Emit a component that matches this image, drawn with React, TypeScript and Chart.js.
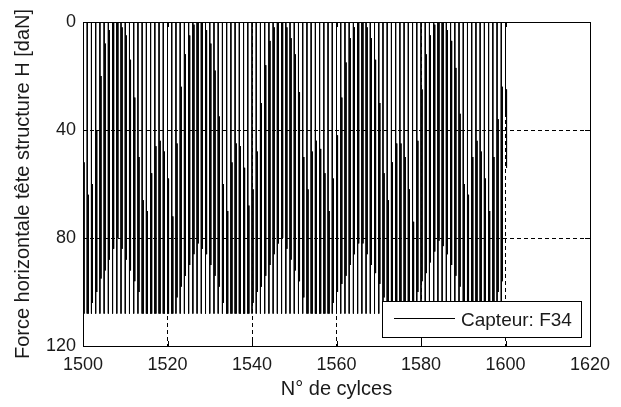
import React, { useEffect, useRef } from 'react';
import { Chart, registerables } from 'chart.js';

Chart.register(...registerables);

// N° de cycle of each loading stroke
const cycles = [
  1500, 1501, 1502, 1503, 1504, 1505, 1506, 1507, 1508, 1509,
  1510, 1511, 1512, 1513, 1514, 1515, 1516, 1517, 1518, 1519,
  1520, 1521, 1522, 1523, 1524, 1525, 1526, 1527, 1528, 1529,
  1530, 1531, 1532, 1533, 1534, 1535, 1536, 1537, 1538, 1539,
  1540, 1541, 1542, 1543, 1544, 1545, 1546, 1547, 1548, 1549,
  1550, 1551, 1552, 1553, 1554, 1555, 1556, 1557, 1558, 1559,
  1560, 1561, 1562, 1563, 1564, 1565, 1566, 1567, 1568, 1569,
  1570, 1571, 1572, 1573, 1574, 1575, 1576, 1577, 1578, 1579,
  1580, 1581, 1582, 1583, 1584, 1585, 1586, 1587, 1588, 1589,
  1590, 1591, 1592, 1593, 1594, 1595, 1596, 1597, 1598, 1599,
  1600,
];

// Minimum force of each stroke [daN] (axis top)
const strokeMin = [
  0, 0, 0, 0, 0, 0, 0, 0, 0, 0,
  0, 0, 0, 0, 0, 0, 0, 0, 0, 0,
  0, 0, 0, 0, 0, 0, 0, 0, 0, 0,
  0, 0, 0, 0, 0, 0, 0, 0, 0, 0,
  0, 0, 0, 0, 0, 0, 0, 0, 0, 0,
  0, 0, 0, 0, 0, 0, 0, 0, 0, 0,
  0, 0, 0, 0, 0, 0, 0, 0, 0, 0,
  0, 0, 0, 0, 0, 0, 0, 0, 0, 0,
  0, 0, 0, 0, 0, 0, 0, 0, 0, 0,
  0, 0, 0, 0, 0, 0, 0, 0, 0, 0,
  0,
];

// Maximum force of each stroke [daN]
const strokeMax = [
  108, 108, 108, 108, 108, 108, 108, 108, 108, 108,
  108, 108, 108, 108, 108, 108, 108, 108, 108, 108,
  108, 108, 108, 108, 108, 108, 108, 108, 108, 108,
  108, 108, 108, 108, 108, 108, 108, 108, 108, 108,
  108, 108, 108, 108, 108, 108, 108, 108, 108, 108,
  108, 108, 108, 108, 108, 108, 108, 108, 108, 108,
  108, 108, 108, 108, 108, 108, 108, 108, 108, 108,
  108, 108, 108, 108, 108, 108, 108, 108, 108, 108,
  108, 108, 108, 108, 108, 108, 108, 108, 108, 108,
  108, 108, 108, 108, 108, 108, 108, 108, 108, 108,
  34,
];

// Return stroke: sampled upper value [daN]
const returnTop = [
  52, 64, 60, 40, 20, 8, 3, 0, 0, 2,
  5, 14, 28, 50, 66, 70, 56, 46, 44, 48,
  58, 72, 45, 24, 12, 5, 1, 0, 0, 3,
  8, 18, 35, 60, 70, 52, 45, 46, 54, 68,
  62, 48, 30, 16, 7, 2, 0, 0, 2, 6,
  12, 26, 50, 62, 48, 44, 47, 56, 70, 58,
  42, 28, 15, 6, 2, 0, 0, 2, 6, 14,
  30, 56, 66, 52, 45, 45, 50, 62, 74, 44,
  25, 12, 5, 1, 0, 0, 3, 7, 17, 34,
  60, 64, 50, 44, 48, 58, 70, 50, 36, 24,
  25,
];

// Return stroke: sampled lower value [daN]
const returnBottom = [
  108, 108, 104, 100, 95, 92, 88, 84, 80, 84,
  88, 92, 96, 100, 108, 108, 108, 108, 108, 108,
  108, 108, 102, 98, 94, 90, 86, 82, 84, 86,
  90, 94, 98, 104, 108, 108, 108, 108, 108, 108,
  104, 100, 98, 94, 90, 86, 82, 80, 84, 88,
  92, 96, 102, 108, 108, 108, 108, 108, 108, 104,
  100, 97, 94, 90, 86, 82, 82, 86, 90, 93,
  97, 102, 108, 108, 108, 108, 108, 108, 108, 100,
  96, 93, 89, 85, 81, 83, 86, 90, 94, 98,
  104, 108, 108, 108, 108, 108, 108, 104, 100, 96,
  54,
];

const xTicks = [1500, 1520, 1540, 1560, 1580, 1600, 1620];
const yTicks = [0, 40, 80, 120];
const seriesLabel = 'Capteur: F34';
const xTitle = 'N° de cylces';
const yTitle = 'Force horizontale tête structure H [daN]';

const FONT = '"Liberation Sans", Arial, Helvetica, sans-serif';
const TEXT = '#1a1a1a';

function buildPoints() {
  const pts: { x: number; y: number | null }[] = [];
  const returnShift = 0.25;
  for (let i = 0; i < cycles.length; i++) {
    const c = cycles[i];
    pts.push({ x: c, y: strokeMin[i] });
    pts.push({ x: c, y: strokeMax[i] });
    pts.push({ x: c + returnShift / 2, y: null });
    pts.push({ x: c + returnShift, y: returnTop[i] });
    pts.push({ x: c + returnShift, y: returnBottom[i] });
    pts.push({ x: c + returnShift * 1.5, y: null });
  }
  return pts;
}

const framePlugin = {
  id: 'frameAndLegend',
  afterDatasetsDraw(chart: any) {
    const { ctx, chartArea: a, scales } = chart;
    ctx.save();
    ctx.strokeStyle = '#000';
    ctx.lineWidth = 1;
    ctx.setLineDash([]);
    // inward tick marks
    ctx.beginPath();
    for (const v of xTicks) {
      const px = Math.round(scales.x.getPixelForValue(v)) + 0.5;
      ctx.moveTo(px, a.bottom);
      ctx.lineTo(px, a.bottom - 5);
      ctx.moveTo(px, a.top);
      ctx.lineTo(px, a.top + 5);
    }
    for (const v of yTicks) {
      const py = Math.round(scales.y.getPixelForValue(v)) + 0.5;
      ctx.moveTo(a.left, py);
      ctx.lineTo(a.left + 5, py);
      ctx.moveTo(a.right, py);
      ctx.lineTo(a.right - 5, py);
    }
    ctx.stroke();
    // frame
    const l = Math.round(a.left) + 0.5;
    const t = Math.round(a.top) + 0.5;
    const r = Math.round(a.right) + 0.5;
    const b = Math.round(a.bottom) + 0.5;
    ctx.strokeRect(l, t, r - l, b - t);
    // legend box
    const w = 199;
    const h = 36;
    const lx = Math.round(a.right) - 9 - w;
    const ly = Math.round(a.bottom) - 9 - h;
    ctx.fillStyle = '#fff';
    ctx.fillRect(lx, ly, w, h);
    ctx.strokeRect(lx + 0.5, ly + 0.5, w, h);
    ctx.beginPath();
    ctx.moveTo(lx + 12, ly + 17.5);
    ctx.lineTo(lx + 73, ly + 17.5);
    ctx.stroke();
    ctx.fillStyle = TEXT;
    ctx.font = `19px ${FONT}`;
    ctx.textBaseline = 'alphabetic';
    ctx.textAlign = 'left';
    ctx.fillText(chart.data.datasets[0].label, lx + 79, ly + 25);
    ctx.restore();
  },
};

export default function App() {
  const ref = useRef<HTMLCanvasElement | null>(null);
  useEffect(() => {
    if (!ref.current) return;
    const chart = new Chart(ref.current, {
      type: 'line',
      data: {
        datasets: [
          {
            label: seriesLabel,
            data: buildPoints() as any,
            borderColor: '#000',
            borderWidth: 1,
            pointRadius: 0,
            spanGaps: false,
            tension: 0,
          },
        ],
      },
      options: {
        animation: false,
        responsive: false,
        devicePixelRatio: 1,
        layout: { padding: { top: 22, right: 31, left: 0, bottom: 0 } },
        plugins: { legend: { display: false }, tooltip: { enabled: false } },
        scales: {
          x: {
            type: 'linear',
            min: 1500,
            max: 1620,
            afterBuildTicks: (s: any) => {
              s.ticks = xTicks.map((v) => ({ value: v }));
            },
            afterFit: (s: any) => {
              s.height = 61;
            },
            ticks: {
              font: { family: FONT, size: 18 },
              color: TEXT,
              padding: 8,
              maxRotation: 0,
              autoSkip: false,
              callback: (v: any) => String(v),
            },
            grid: {
              drawTicks: false,
              color: (c: any) =>
                c.tick && c.tick.value > 1500 && c.tick.value < 1620 ? '#000' : 'rgba(0,0,0,0)',
              lineWidth: 1,
            },
            border: { display: false, dash: [4, 3] },
            title: {
              display: true,
              text: xTitle,
              font: { family: FONT, size: 20 },
              color: TEXT,
              padding: { top: 0, bottom: 6 },
            },
          },
          y: {
            type: 'linear',
            reverse: true,
            min: 0,
            max: 120,
            afterBuildTicks: (s: any) => {
              s.ticks = yTicks.map((v) => ({ value: v }));
            },
            afterFit: (s: any) => {
              s.width = 83;
            },
            ticks: {
              font: { family: FONT, size: 18 },
              color: TEXT,
              padding: 7,
              autoSkip: false,
              callback: (v: any) => String(v),
            },
            grid: {
              drawTicks: false,
              color: (c: any) =>
                c.tick && c.tick.value > 0 && c.tick.value < 120 ? '#000' : 'rgba(0,0,0,0)',
              lineWidth: 1,
            },
            border: { display: false, dash: [4, 3] },
            title: {
              display: true,
              text: yTitle,
              font: { family: FONT, size: 20 },
              color: TEXT,
              padding: { top: 11, bottom: 0 },
            },
          },
        },
      },
      plugins: [framePlugin],
    });
    return () => chart.destroy();
  }, []);
  return (
    <div style={{ position: 'fixed', left: 0, top: 0, width: 621, height: 407, background: '#fff' }}>
      <canvas ref={ref} width={621} height={407} style={{ display: 'block', width: 621, height: 407 }} />
    </div>
  );
}
